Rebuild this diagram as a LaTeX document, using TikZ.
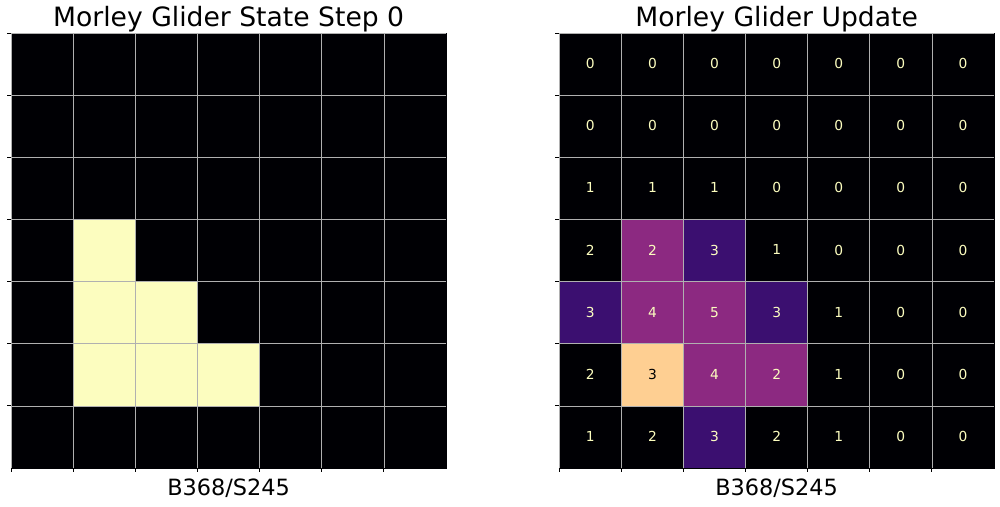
\documentclass[tikz,border=0pt]{standalone}
\usepackage{fontspec}
\setmainfont{DejaVu Sans}
\definecolor{magmaK}{HTML}{000004}
\definecolor{magmaD}{HTML}{3B0F70}
\definecolor{magmaP}{HTML}{8C2981}
\definecolor{magmaE}{HTML}{FECF92}
\definecolor{magmaY}{HTML}{FCFDBF}
\definecolor{gridgray}{HTML}{B0B0B0}
\tikzset{
    cell/.style={rectangle,minimum size=62.1pt,inner sep=0pt,draw=gridgray,line width=0.8pt,
        font=\fontsize{13.8}{16}\selectfont},
    c-k/.style={fill=magmaK,text=magmaY},
    c-d/.style={fill=magmaD,text=magmaY},
    c-p/.style={fill=magmaP,text=magmaY},
    c-e/.style={fill=magmaE,text=black},
    c-y/.style={fill=magmaY},
    plottitle/.style={anchor=base,inner sep=0pt,font=\fontsize{26.6}{32}\selectfont},
    rulelabel/.style={anchor=base,inner sep=0pt,font=\fontsize{22.4}{27}\selectfont},
    tick/.style={line width=0.8pt,black}
}
\begin{document}
\begin{tikzpicture}[x=1pt,y=-1pt]
                \useasboundingbox (0,0) rectangle (1000,506);

                \foreach \r/\vals in {0/{k,k,k,k,k,k,k},1/{k,k,k,k,k,k,k},2/{k,k,k,k,k,k,k},
                        3/{k,y,k,k,k,k,k},4/{k,y,y,k,k,k,k},5/{k,y,y,y,k,k,k},6/{k,k,k,k,k,k,k}}
                    \foreach \f [count=\c from 0] in \vals
                        \node[cell,c-\f] (S-\r-\c) at ({42.35+62.1*\c},{64.35+62.1*\r}) {};

                \foreach \r/\vals in {0/{0/k,0/k,0/k,0/k,0/k,0/k,0/k},1/{0/k,0/k,0/k,0/k,0/k,0/k,0/k},
                        2/{1/k,1/k,1/k,0/k,0/k,0/k,0/k},3/{2/k,2/p,3/d,1/k,0/k,0/k,0/k},
                        4/{3/d,4/p,5/p,3/d,1/k,0/k,0/k},5/{2/k,3/e,4/p,2/p,1/k,0/k,0/k},
                        6/{1/k,2/k,3/d,2/k,1/k,0/k,0/k}}
                    \foreach \v/\f [count=\c from 0] in \vals
                        \node[cell,c-\f] (U-\r-\c) at ({590.35+62.1*\c},{64.35+62.1*\r}) {\raisebox{1.5pt}{\v}};

                \draw[line width=0.8pt,magmaK] (S-6-0.south west) -- (S-6-6.south east) -- (S-0-6.north east);
                \draw[line width=0.8pt,magmaK] (U-6-0.south west) -- (U-6-6.south east) -- (U-0-6.north east);

                \foreach \i in {0,...,6} {
                    \draw[tick] (S-\i-0.north west) -- ++(-3.5,0);
                    \draw[tick] (S-6-\i.south west) -- ++(0,3.5);
                    \draw[tick] (U-\i-0.north west) -- ++(-3.5,0);
                    \draw[tick] (U-6-\i.south west) -- ++(0,3.5);
                }

                \node[plottitle] (stitle) at ([yshift=6.6pt]S-0-3.north) {Morley Glider State Step 0};
                \node[plottitle] (utitle) at ([yshift=6.6pt]U-0-3.north) {Morley Glider Update};

                \node[rulelabel] (srule) at ([yshift=-27.4pt]S-6-3.south) {B368/S245};
                \node[rulelabel] (urule) at ([yshift=-27.4pt]U-6-3.south) {B368/S245};
\end{tikzpicture}
\end{document}
